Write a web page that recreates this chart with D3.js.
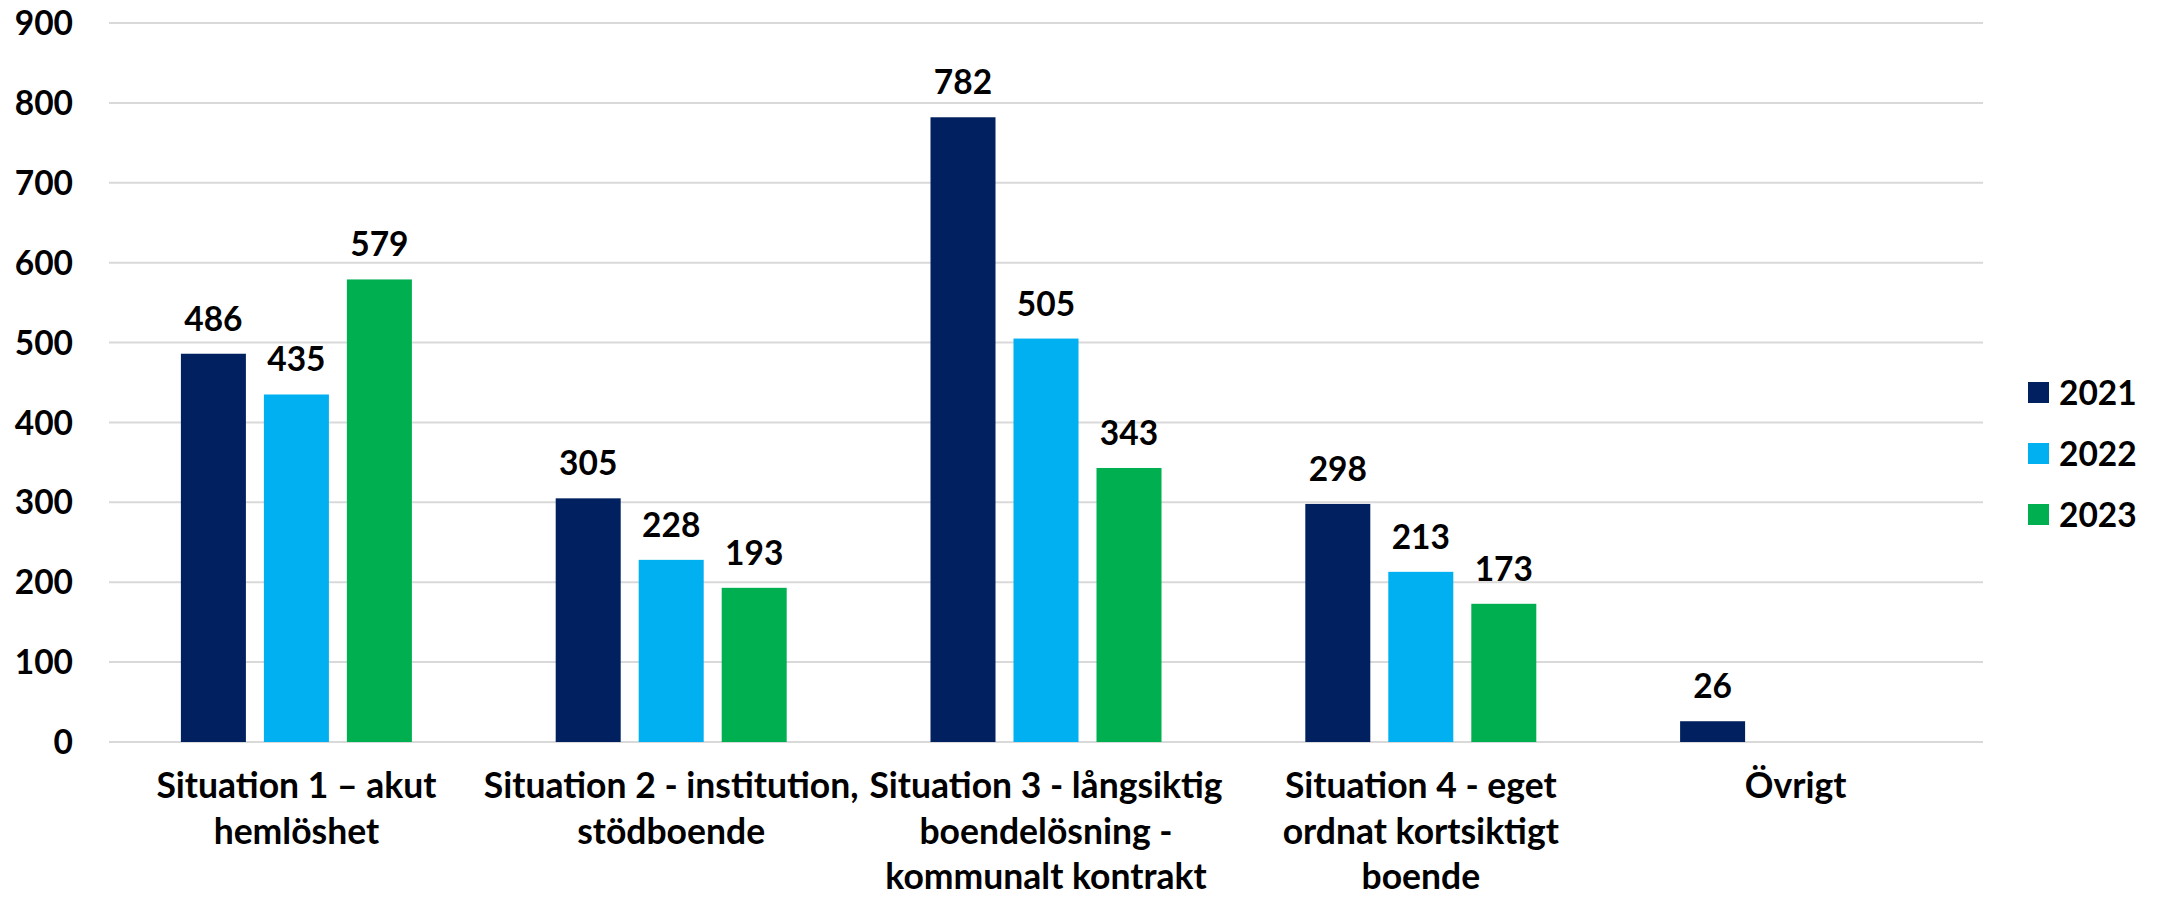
<!DOCTYPE html>
<html>
<head>
<meta charset="utf-8">
<script src="https://cdn.jsdelivr.net/npm/d3@7"></script>
<style>
  html, body { margin: 0; padding: 0; background: #fff; }
  svg text { font-family: Lato, "Open Sans", sans-serif; font-weight: 700; fill: #000; }
</style>
</head>
<body>
<svg id="chart" width="2158" height="897"></svg>
<script>
// ---- data ----
const categories = ["S1", "S2", "S3", "S4", "OV"];
const categoryLabels = [
  ["Situation 1 – akut", "hemlöshet"],
  ["Situation 2 - institution,", "stödboende"],
  ["Situation 3 - långsiktig", "boendelösning -", "kommunalt kontrakt"],
  ["Situation 4 - eget", "ordnat kortsiktigt", "boende"],
  ["Övrigt"]
];
const seriesNames = ["2021", "2022", "2023"];
const values2021 = [486, 305, 782, 298, 26];
const values2022 = [435, 228, 505, 213, null];
const values2023 = [579, 193, 343, 173, null];
const seriesColors = ["#002060", "#00B0F0", "#00B050"];
const yTicks = [0, 100, 200, 300, 400, 500, 600, 700, 800, 900];

const seriesValues = [values2021, values2022, values2023];

// ---- layout ----
const svg = d3.select("#chart");
const plot = { left: 109, right: 1983, top: 23, bottom: 742 };
const numSize = 33.5;
const catSize = 35.5;

const x = d3.scaleBand().domain(categories).range([plot.left, plot.right]).padding(0);
const xInner = d3.scaleBand().domain(seriesNames).range([-115.5, 115.5]).paddingInner(18 / 83).paddingOuter(0);
const y = d3.scaleLinear().domain([0, 900]).range([plot.bottom, plot.top]);

// gridlines
svg.append("g").selectAll("line").data(yTicks).join("line")
  .attr("x1", plot.left).attr("x2", plot.right)
  .attr("y1", d => y(d)).attr("y2", d => y(d))
  .attr("stroke", "#d9d9d9").attr("stroke-width", 2);

// y tick labels
svg.append("g").selectAll("text").data(yTicks).join("text")
  .attr("x", 73).attr("y", d => y(d)).attr("dy", "0.36em")
  .attr("text-anchor", "end").attr("font-size", numSize)
  .text(d => d);

// bars
const flat = [];
categories.forEach((c, i) => {
  seriesNames.forEach((s, j) => {
    const v = seriesValues[j][i];
    if (v != null) flat.push({ c, s, v, color: seriesColors[j] });
  });
});

const xc = c => x(c) + x.bandwidth() / 2;

svg.append("g").selectAll("rect").data(flat).join("rect")
  .attr("x", d => xc(d.c) + xInner(d.s))
  .attr("width", xInner.bandwidth())
  .attr("y", d => y(d.v))
  .attr("height", d => y(0) - y(d.v))
  .attr("fill", d => d.color);

// value labels
svg.append("g").selectAll("text").data(flat).join("text")
  .attr("x", d => xc(d.c) + xInner(d.s) + xInner.bandwidth() / 2)
  .attr("y", d => y(d.v) - 23)
  .attr("text-anchor", "middle").attr("font-size", numSize)
  .text(d => d.v);

// category labels
const catG = svg.append("g");
categories.forEach((c, i) => {
  const t = catG.append("text")
    .attr("x", xc(c)).attr("y", 798)
    .attr("text-anchor", "middle").attr("font-size", catSize);
  categoryLabels[i].forEach((line, k) => {
    t.append("tspan").attr("x", xc(c)).attr("y", 798 + k * 45.5).text(line);
  });
});

// legend
const legend = svg.append("g").attr("transform", "translate(2028,382)");
seriesNames.forEach((s, j) => {
  const g = legend.append("g").attr("transform", `translate(0,${j * 61})`);
  g.append("rect").attr("width", 21).attr("height", 21).attr("fill", seriesColors[j]);
  g.append("text").attr("x", 31).attr("y", 10.5).attr("dy", "0.36em")
    .attr("font-size", numSize).text(s);
});
</script>
</body>
</html>
